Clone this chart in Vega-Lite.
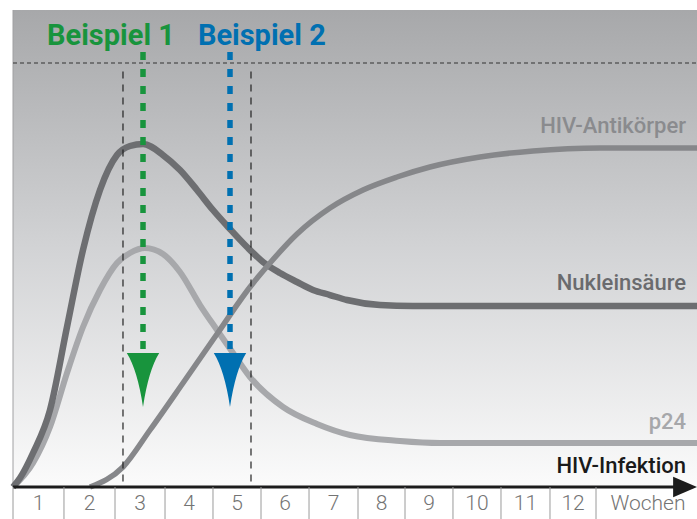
{
  "$schema": "https://vega.github.io/schema/vega-lite/v6.json",
  "width": 697,
  "height": 519,
  "autosize": {"type": "none"},
  "padding": 0,
  "background": "white",
  "config": {"view": {"stroke": null}},
  "resolve": {"scale": {"color": "independent"}},
  "datasets": {
    "curves": [
      {"series": "Nukleinsäure", "x": 0, "y": 0},
      {"series": "Nukleinsäure", "x": 0.144, "y": 2.12},
      {"series": "Nukleinsäure", "x": 0.412, "y": 8.02},
      {"series": "Nukleinsäure", "x": 0.761, "y": 18.16},
      {"series": "Nukleinsäure", "x": 1.111, "y": 37.74},
      {"series": "Nukleinsäure", "x": 1.44, "y": 55.9},
      {"series": "Nukleinsäure", "x": 1.79, "y": 70.05},
      {"series": "Nukleinsäure", "x": 2.14, "y": 78.3},
      {"series": "Nukleinsäure", "x": 2.407, "y": 80.42},
      {"series": "Nukleinsäure", "x": 2.675, "y": 80.9},
      {"series": "Nukleinsäure", "x": 3.086, "y": 78.3},
      {"series": "Nukleinsäure", "x": 3.436, "y": 74.76},
      {"series": "Nukleinsäure", "x": 3.786, "y": 70.05},
      {"series": "Nukleinsäure", "x": 4.115, "y": 65.33},
      {"series": "Nukleinsäure", "x": 4.465, "y": 60.85},
      {"series": "Nukleinsäure", "x": 4.815, "y": 56.6},
      {"series": "Nukleinsäure", "x": 5.144, "y": 53.07},
      {"series": "Nukleinsäure", "x": 5.494, "y": 50.47},
      {"series": "Nukleinsäure", "x": 5.844, "y": 48.35},
      {"series": "Nukleinsäure", "x": 6.173, "y": 46.46},
      {"series": "Nukleinsäure", "x": 6.523, "y": 45.28},
      {"series": "Nukleinsäure", "x": 6.872, "y": 44.1},
      {"series": "Nukleinsäure", "x": 7.551, "y": 42.92},
      {"series": "Nukleinsäure", "x": 8.23, "y": 42.69},
      {"series": "Nukleinsäure", "x": 14.2, "y": 42.69},
      {"series": "p24", "x": 0, "y": 0},
      {"series": "p24", "x": 0.412, "y": 5.66},
      {"series": "p24", "x": 0.761, "y": 14.15},
      {"series": "p24", "x": 1.111, "y": 26.89},
      {"series": "p24", "x": 1.44, "y": 37.74},
      {"series": "p24", "x": 1.79, "y": 46.46},
      {"series": "p24", "x": 2.14, "y": 52.83},
      {"series": "p24", "x": 2.407, "y": 55.19},
      {"series": "p24", "x": 2.716, "y": 56.37},
      {"series": "p24", "x": 3.086, "y": 54.95},
      {"series": "p24", "x": 3.436, "y": 50.71},
      {"series": "p24", "x": 3.848, "y": 42.92},
      {"series": "p24", "x": 4.198, "y": 37.03},
      {"series": "p24", "x": 4.527, "y": 31.6},
      {"series": "p24", "x": 4.877, "y": 25.94},
      {"series": "p24", "x": 5.556, "y": 18.87},
      {"series": "p24", "x": 6.255, "y": 14.86},
      {"series": "p24", "x": 6.934, "y": 12.26},
      {"series": "p24", "x": 7.963, "y": 10.85},
      {"series": "p24", "x": 8.786, "y": 10.38},
      {"series": "p24", "x": 14.2, "y": 10.38},
      {"series": "HIV-Antikörper", "x": 1.584, "y": 0},
      {"series": "HIV-Antikörper", "x": 2.263, "y": 4.72},
      {"series": "HIV-Antikörper", "x": 2.819, "y": 13.44},
      {"series": "HIV-Antikörper", "x": 3.498, "y": 24.53},
      {"series": "HIV-Antikörper", "x": 4.198, "y": 36.08},
      {"series": "HIV-Antikörper", "x": 4.877, "y": 47.17},
      {"series": "HIV-Antikörper", "x": 5.288, "y": 52.83},
      {"series": "HIV-Antikörper", "x": 5.844, "y": 59.67},
      {"series": "HIV-Antikörper", "x": 6.523, "y": 65.8},
      {"series": "HIV-Antikörper", "x": 7.202, "y": 70.05},
      {"series": "HIV-Antikörper", "x": 7.901, "y": 73.11},
      {"series": "HIV-Antikörper", "x": 8.58, "y": 75.47},
      {"series": "HIV-Antikörper", "x": 9.609, "y": 77.83},
      {"series": "HIV-Antikörper", "x": 10.7, "y": 79.25},
      {"series": "HIV-Antikörper", "x": 12.078, "y": 79.95},
      {"series": "HIV-Antikörper", "x": 14.2, "y": 79.95}
    ],
    "ticks": [
      {"label": "1", "x": 0.525, "b": 0},
      {"label": "2", "x": 1.574, "b": 1.049},
      {"label": "3", "x": 2.613, "b": 2.099},
      {"label": "4", "x": 3.621, "b": 3.128},
      {"label": "5", "x": 4.609, "b": 4.115},
      {"label": "6", "x": 5.597, "b": 5.103},
      {"label": "7", "x": 6.595, "b": 6.091},
      {"label": "8", "x": 7.582, "b": 7.099},
      {"label": "9", "x": 8.56, "b": 8.066},
      {"label": "10", "x": 9.547, "b": 9.053},
      {"label": "11", "x": 10.545, "b": 10.041},
      {"label": "12", "x": 11.523, "b": 11.049},
      {"label": "Wochen", "x": 13.066, "b": 11.996}
    ],
    "examples": [
      {"name": "Beispiel 1", "x": 2.675, "top": 102.6, "bottom": 31.6, "head": 25.24, "lx": 2.016},
      {"name": "Beispiel 2", "x": 4.465, "top": 102.6, "bottom": 31.6, "head": 25.24, "lx": 5.12}
    ]
  },
  "layer": [
    {
      "data": {"values": [{"x": 0, "x2": 14.2, "y": 0, "y2": 112.5}]},
      "mark": {"type": "rect", "fill": {"gradient": "linear", "x1": 0, "y1": 0, "x2": 0, "y2": 1, "stops": [{"offset": 0, "color": "#a7a8aa"}, {"offset": 0.5, "color": "#d2d3d5"}, {"offset": 1, "color": "#fbfbfb"}]}},
      "encoding": {
        "x": {"field": "x", "type": "quantitative", "axis": null, "scale": {"domain": [-0.2675, 14.074], "nice": false, "zero": false}},
        "x2": {"field": "x2"},
        "y": {"field": "y", "type": "quantitative", "axis": null, "scale": {"domain": [-7.547, 114.858], "nice": false, "zero": false}},
        "y2": {"field": "y2"}
      }
    },
    {
      "data": {"values": [{"x": 0, "y": 0, "y2": 112.5}]},
      "mark": {"type": "rule", "color": "#a0a0a2", "strokeWidth": 1},
      "encoding": {
        "x": {"field": "x", "type": "quantitative", "axis": null},
        "y": {"field": "y", "type": "quantitative", "axis": null},
        "y2": {"field": "y2"}
      }
    },
    {
      "data": {"values": [{"x": 0, "x2": 14.2, "y": 100}]},
      "mark": {"type": "rule", "color": "#333333", "strokeWidth": 1.2, "strokeDash": [4, 3]},
      "encoding": {
        "x": {"field": "x", "type": "quantitative", "axis": null},
        "x2": {"field": "x2"},
        "y": {"field": "y", "type": "quantitative", "axis": null}
      }
    },
    {
      "data": {"name": "curves"},
      "transform": [{"filter": "datum.series === 'p24'"}],
      "mark": {"type": "line", "interpolate": "monotone", "color": "#a7a8ab", "strokeWidth": 6, "clip": true},
      "encoding": {
        "x": {"field": "x", "type": "quantitative", "axis": null},
        "y": {"field": "y", "type": "quantitative", "axis": null}
      }
    },
    {
      "data": {"name": "curves"},
      "transform": [{"filter": "datum.series === 'Nukleinsäure'"}],
      "mark": {"type": "line", "interpolate": "monotone", "color": "#6d6e71", "strokeWidth": 6.5, "clip": true},
      "encoding": {
        "x": {"field": "x", "type": "quantitative", "axis": null},
        "y": {"field": "y", "type": "quantitative", "axis": null}
      }
    },
    {
      "data": {"name": "curves"},
      "transform": [{"filter": "datum.series === 'HIV-Antikörper'"}],
      "mark": {"type": "line", "interpolate": "monotone", "color": "#86878a", "strokeWidth": 5.5, "clip": true},
      "encoding": {
        "x": {"field": "x", "type": "quantitative", "axis": null},
        "y": {"field": "y", "type": "quantitative", "axis": null}
      }
    },
    {
      "data": {"values": [{"x": 2.263, "y": 98.0, "y2": 0}, {"x": 4.897, "y": 98.0, "y2": 0}]},
      "mark": {"type": "rule", "color": "#222222", "strokeWidth": 1.2, "strokeDash": [7, 6]},
      "encoding": {
        "x": {"field": "x", "type": "quantitative", "axis": null},
        "y": {"field": "y", "type": "quantitative", "axis": null},
        "y2": {"field": "y2"}
      }
    },
    {
      "data": {"name": "examples"},
      "mark": {"type": "rule", "strokeWidth": 5.5, "strokeDash": [8, 9]},
      "encoding": {
        "x": {"field": "x", "type": "quantitative", "axis": null},
        "y": {"field": "top", "type": "quantitative", "axis": null},
        "y2": {"field": "bottom"},
        "color": {"field": "name", "type": "nominal", "legend": null, "scale": {"domain": ["Beispiel 1", "Beispiel 2"], "range": ["#18943d", "#0070b1"]}}
      }
    },
    {
      "data": {"name": "examples"},
      "mark": {"type": "point", "filled": true, "opacity": 1, "strokeWidth": 0, "shape": "M-0.6,-1 L0.6,-1 Q0.2,-0.35 0,1 Q-0.2,-0.35 -0.6,-1 Z", "size": 2916},
      "encoding": {
        "x": {"field": "x", "type": "quantitative", "axis": null},
        "y": {"field": "head", "type": "quantitative", "axis": null},
        "color": {"field": "name", "type": "nominal", "legend": null, "scale": {"domain": ["Beispiel 1", "Beispiel 2"], "range": ["#18943d", "#0070b1"]}}
      }
    },
    {
      "data": {"name": "examples"},
      "mark": {"type": "text", "font": "Roboto", "fontSize": 29, "fontWeight": "bold", "baseline": "middle", "align": "center"},
      "encoding": {
        "x": {"field": "lx", "type": "quantitative", "axis": null},
        "y": {"datum": 106.4, "type": "quantitative", "axis": null},
        "text": {"field": "name"},
        "color": {"field": "name", "type": "nominal", "legend": null, "scale": {"domain": ["Beispiel 1", "Beispiel 2"], "range": ["#18943d", "#0070b1"]}}
      }
    },
    {
      "data": {"values": [{"x": 0, "x2": 13.62, "y": 0}]},
      "mark": {"type": "rule", "color": "#1c1c1c", "strokeWidth": 3},
      "encoding": {
        "x": {"field": "x", "type": "quantitative", "axis": null},
        "x2": {"field": "x2"},
        "y": {"field": "y", "type": "quantitative", "axis": null}
      }
    },
    {
      "data": {"values": [{"x": 13.83, "y": 0}]},
      "mark": {"type": "point", "filled": true, "opacity": 1, "color": "#1c1c1c", "strokeWidth": 0, "shape": "M-1,-0.85 L1,0 L-1,0.85 Z", "size": 576},
      "encoding": {
        "x": {"field": "x", "type": "quantitative", "axis": null},
        "y": {"field": "y", "type": "quantitative", "axis": null}
      }
    },
    {
      "data": {"name": "ticks"},
      "mark": {"type": "rule", "color": "#9a9a9a", "strokeWidth": 1},
      "encoding": {
        "x": {"field": "b", "type": "quantitative", "axis": null},
        "y": {"datum": 0, "type": "quantitative", "axis": null},
        "y2": {"datum": -7.6}
      }
    },
    {
      "data": {"name": "ticks"},
      "mark": {"type": "text", "font": "Roboto", "fontSize": 21, "fontWeight": 300, "color": "#747474", "baseline": "middle", "align": "center"},
      "encoding": {
        "x": {"field": "x", "type": "quantitative", "axis": null},
        "y": {"datum": -4.1, "type": "quantitative", "axis": null},
        "text": {"field": "label"}
      }
    },
    {
      "data": {"values": [
        {"label": "HIV-Antikörper", "y": 85.1, "c": "a"},
        {"label": "Nukleinsäure", "y": 48.1, "c": "n"},
        {"label": "p24", "y": 15.3, "c": "p"},
        {"label": "HIV-Infektion", "y": 4.95, "c": "h"}
      ]},
      "mark": {"type": "text", "font": "Roboto", "fontSize": 22, "fontWeight": 500, "baseline": "middle", "align": "right"},
      "encoding": {
        "x": {"datum": 13.848, "type": "quantitative", "axis": null},
        "y": {"field": "y", "type": "quantitative", "axis": null},
        "text": {"field": "label"},
        "color": {"field": "c", "type": "nominal", "legend": null, "scale": {"domain": ["a", "n", "p", "h"], "range": ["#8a8b8e", "#6a6b6e", "#a6a7aa", "#1a1a1a"]}}
      }
    }
  ]
}
